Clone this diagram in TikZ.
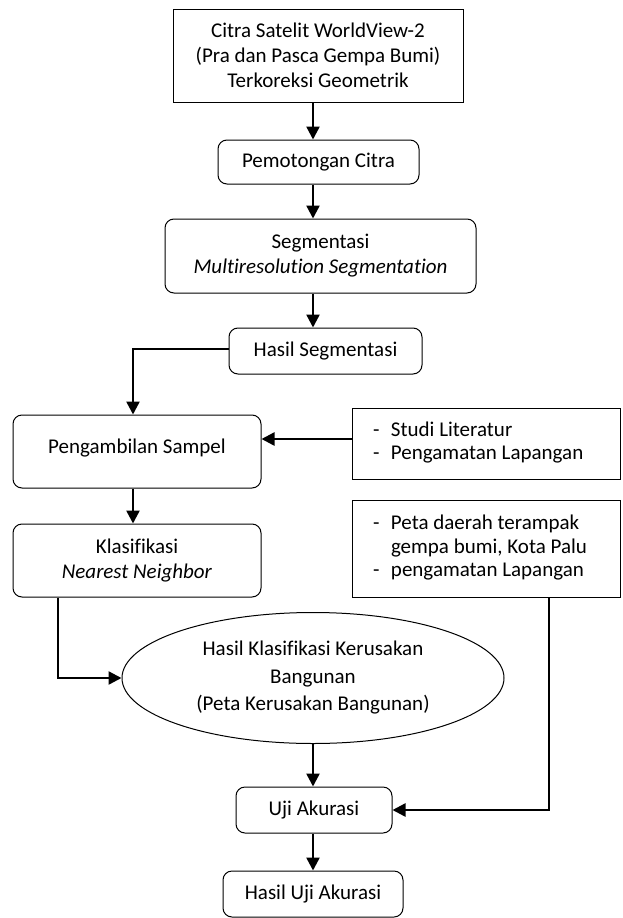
\documentclass[tikz,border=0pt]{standalone}
\usepackage{fontspec}
\setmainfont{Carlito}[Ligatures=CommonOff]
\usetikzlibrary{arrows.meta,shapes.geometric}
\begin{document}
\begin{tikzpicture}[x=1pt,y=-1pt,
  every node/.style={font=\fontsize{21}{25}\selectfont, inner sep=0pt},
  sqbox/.style={draw, line width=1pt, rectangle},
  rbox/.style={draw, line width=1pt, rectangle, rounded corners=9pt},
  conn/.style={line width=2.4pt},
  arr/.style={conn, -{Triangle[length=13pt,width=13pt]}},
]
\useasboundingbox (0,0) rectangle (622,918);

\node[sqbox, minimum width=290pt, minimum height=93pt, align=center] (b1) at (318,55.5)
  {Citra Satelit WorldView-2\\(Pra dan Pasca Gempa Bumi)\\Terkoreksi Geometrik};
\node[rbox, minimum width=201pt, minimum height=44pt] (b2) at (318.5,162) {Pemotongan Citra};
\node[rbox, minimum width=311pt, minimum height=74pt, align=center] (b3) at (320.5,256)
  {Segmentasi\\\textit{Multiresolution Segmentation}};
\node[rbox, minimum width=193pt, minimum height=46pt] (b4) at (325.5,351) {Hasil Segmentasi};

\node[rbox, minimum width=248pt, minimum height=73pt] (samp) at (137,451.5)
  {\raisebox{11pt}{Pengambilan Sampel}};
\node[rbox, minimum width=248pt, minimum height=73pt, align=center] (klas) at (137,560.5)
  {Klasifikasi\\\textit{Nearest Neighbor}};

\node[sqbox, minimum width=268pt, minimum height=71pt] (studi) at (486,443.5)
  {\makebox[268pt][l]{\hspace{21pt}\fontsize{21}{23}\selectfont\begin{tabular}{@{}p{18pt}@{}l@{}}-&Studi Literatur\\-&Pengamatan Lapangan\end{tabular}}};
\node[sqbox, minimum width=268pt, minimum height=97pt] (peta) at (486,548.5)
  {\raisebox{9pt}{\makebox[268pt][l]{\hspace{21pt}\fontsize{21}{23.5}\selectfont\begin{tabular}{@{}p{18pt}@{}l@{}}-&Peta daerah terampak\\&gempa bumi, Kota Palu\\-&pengamatan Lapangan\end{tabular}}}};

\node[draw, ellipse, line width=1pt, minimum width=382pt, minimum height=131pt, align=center,
  font=\fontsize{21}{27.5}\selectfont] (ell) at (313,678)
  {Hasil Klasifikasi Kerusakan\\Bangunan\\(Peta Kerusakan Bangunan)};

\node[rbox, minimum width=156pt, minimum height=46pt] (uji) at (314,810) {Uji Akurasi};
\node[rbox, minimum width=180pt, minimum height=46pt] (hu) at (313,894) {Hasil Uji Akurasi};

\coordinate (cx) at (313,0);
\coordinate (lx) at (133,349);
\coordinate (ya) at (0,439);
\coordinate (kx) at (58,0);
\coordinate (px) at (549,0);

\draw[arr] (b1.south -| cx) -- (b2.north -| cx);
\draw[arr] (b2.south -| cx) -- (b3.north -| cx);
\draw[arr] (b3.south -| cx) -- (b4.north -| cx);
\draw[arr] (b4.west |- lx) -- (lx) -- (samp.north -| lx);
\draw[arr] (studi.west |- ya) -- (samp.east |- ya);
\draw[arr] (samp.south -| lx) -- (klas.north -| lx);
\draw[arr] (klas.south -| kx) -- (kx |- ell.west) -- (ell.west);
\draw[arr] (ell.south) -- (uji.north -| ell.south);
\draw[arr] (peta.south -| px) -- (px |- uji.east) -- (uji.east);
\draw[arr] (uji.south -| cx) -- (hu.north -| cx);
\end{tikzpicture}
\end{document}
